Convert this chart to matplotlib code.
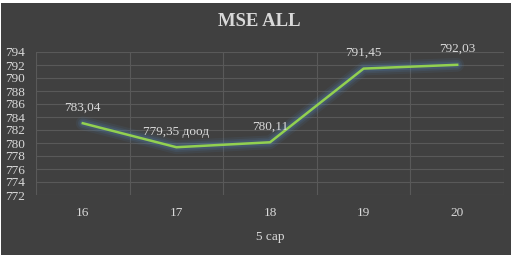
"""MSE ALL line chart"""

import matplotlib.pyplot as plt
from matplotlib.patches import Rectangle

categories = ["16", "17", "18", "19", "20"]
values = [783.04, 779.35, 780.11, 791.45, 792.03]
point_labels = ["783,04", "779,35 доод", "780,11", "791,45", "792,03"]
y_ticks = list(range(772, 795, 2))

bg = "#404040"
grid_c = "#595959"
text_c = "#d9d9d9"
line_c = "#92d050"

plt.rcParams["font.family"] = ["Liberation Serif", "DejaVu Serif"]

fig = plt.figure(figsize=(5.17, 2.58), dpi=100, facecolor="white")
fig.patches.append(Rectangle((1 / 517, 3 / 258), 510 / 517, 252 / 258,
                             transform=fig.transFigure, facecolor=bg,
                             edgecolor="none", zorder=-10))

ax = fig.add_axes([36 / 517, 1 - 195 / 258, 468 / 517, 143 / 258])
ax.set_facecolor(bg)

x = list(range(len(categories)))

# soft bluish glow under the line
for w, a in [(10, 0.10), (7, 0.15), (4.5, 0.22)]:
    ax.plot(x, values, color="#4f7fb0", linewidth=w, alpha=a,
            solid_capstyle="round", solid_joinstyle="round", zorder=2)
ax.plot(x, values, color=line_c, linewidth=1.8, zorder=3)

for xi, v, lab in zip(x, values, point_labels):
    ax.annotate(lab, (xi, v), xytext=(0, 7), textcoords="offset points",
                ha="center", va="bottom", color=text_c, fontsize=9.5)

ax.set_xlim(-0.5, len(categories) - 0.5)
ax.set_ylim(772, 794)
ax.set_yticks(y_ticks)
ax.set_xticks(x)
ax.set_xticklabels(categories)
ax.set_xticks([i + 0.5 for i in range(-1, len(categories))], minor=True)

ax.grid(which="major", axis="y", color=grid_c, linewidth=0.8)
ax.grid(which="minor", axis="x", color=grid_c, linewidth=0.8)
for s in ax.spines.values():
    s.set_visible(False)
ax.tick_params(which="both", length=0, colors=text_c, labelsize=9.5)
ax.tick_params(axis="x", pad=9)
ax.tick_params(axis="y", pad=8)

ax.set_xlabel("5 сар", color=text_c, fontsize=9.5, labelpad=8)
fig.text(259 / 517, 1 - 22 / 258, "MSE ALL", ha="center", va="center",
         color=text_c, fontsize=13.5, fontweight="bold")

fig.savefig("out.png", dpi=100, facecolor="white")
